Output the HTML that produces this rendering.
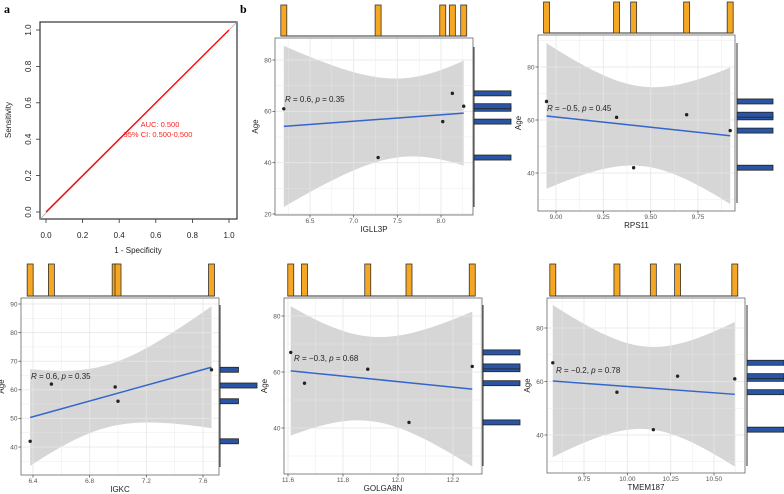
<!DOCTYPE html>
<html><head><meta charset="utf-8">
<style>
html,body{margin:0;padding:0;background:#fff;}
svg{display:block;font-family:"Liberation Sans",sans-serif;}
</style></head>
<body>
<svg id="chart" width="784" height="494" viewBox="0 0 784 494" xmlns="http://www.w3.org/2000/svg">
<text x="4" y="13" font-family="Liberation Serif" font-weight="bold" font-size="12">a</text>
<text x="240" y="13" font-family="Liberation Serif" font-weight="bold" font-size="12">b</text>
</svg>
<script>
// ---- data ----
const rocTicks = [0, 0.2, 0.4, 0.6, 0.8, 1.0];
const rocTickLabels = ["0.0","0.2","0.4","0.6","0.8","1.0"];
const rocFpr = [0, 1];
const rocTpr = [0, 1];
const geneNames = ["IGLL3P","RPS11","IGKC","GOLGA8N","TMEM187"];
const igll3pExpr = [6.2, 7.28, 8.02, 8.13, 8.26];
const igll3pAges = [61, 42, 56, 67, 62];
const rps11Expr = [8.95, 9.32, 9.41, 9.69, 9.92];
const rps11Ages = [67, 61, 42, 62, 56];
const igkcExpr = [6.38, 6.53, 6.98, 7.0, 7.66];
const igkcAges = [42, 62, 61, 56, 67];
const golga8nExpr = [11.61, 11.66, 11.89, 12.04, 12.27];
const golga8nAges = [67, 56, 61, 42, 62];
const tmem187Expr = [9.57, 9.94, 10.15, 10.29, 10.62];
const tmem187Ages = [67, 56, 42, 62, 61];
const annotations = ["R = 0.6, p = 0.35","R = \u22120.5, p = 0.45","R = 0.6, p = 0.35","R = \u22120.3, p = 0.68","R = \u22120.2, p = 0.78"];
const xTickLabels = [["6.5","7.0","7.5","8.0"],["9.00","9.25","9.50","9.75"],["6.4","6.8","7.2","7.6"],["11.6","11.8","12.0","12.2"],["9.75","10.00","10.25","10.50"]];
const yTickLabels = [["20","40","60","80"],["40","60","80"],["40","50","60","70","80","90"],["40","60","80"],["40","60","80"]];

const NS = "http://www.w3.org/2000/svg";
const svg = document.getElementById("chart");
function mk(tag, attrs, parent){
  const e = document.createElementNS(NS, tag);
  for (const k in attrs) e.setAttribute(k, attrs[k]);
  (parent||svg).appendChild(e);
  return e;
}
function lin(v1,p1,v2,p2){ return v => p1 + (v - v1) * (p2 - p1) / (v2 - v1); }

// ---- panel a: ROC ----
(function(){
  const g = mk("g", {});
  
  
  const x = lin(0,46,1,229), y = lin(0,212,1,30);
  const box = mk("rect",{x:40,y:22,width:197,height:197,fill:"#fff",stroke:"#333","stroke-width":1.2},g);
  
  
  const ref = mk("line",{x1:40,y1:219,x2:237,y2:22,stroke:"#aaa","stroke-width":0.8},g);
  
  
  const pts = rocFpr.map((f,i)=>x(f)+","+y(rocTpr[i])).join(" ");
  const roc = mk("polyline",{points:pts,fill:"none",stroke:"#f00","stroke-width":1.3},g);
  
  
  rocTicks.forEach((t,i)=>{
    mk("line",{x1:x(t),y1:219,x2:x(t),y2:223,stroke:"#333","stroke-width":0.8},g);
    const tl = mk("text",{x:x(t),y:238,"font-size":8,"text-anchor":"middle",fill:"#222"},g);
    tl.textContent = rocTickLabels[i];
    
    
    mk("line",{x1:36,y1:y(t),x2:40,y2:y(t),stroke:"#333","stroke-width":0.8},g);
    const yl = mk("text",{x:0,y:0,"font-size":8,"text-anchor":"middle",fill:"#222",transform:`translate(31,${y(t)}) rotate(-90)`},g);
    yl.textContent = rocTickLabels[i];
    
    
  });
  const xt = mk("text",{x:138,y:253,"font-size":8,"text-anchor":"middle",fill:"#222"},g);
  xt.textContent = "1 - Specificity";
  
  
  const yt = mk("text",{x:0,y:0,"font-size":8,"text-anchor":"middle",fill:"#222",transform:"translate(11,120) rotate(-90)"},g);
  yt.textContent = "Sensitivity";
  
  
  const a1 = mk("text",{x:160,y:127,"font-size":7.5,"text-anchor":"middle",fill:"#f22"},g);
  a1.textContent = "AUC: 0.500";
  
  
  const a2 = mk("text",{x:158,y:137,"font-size":7.5,"text-anchor":"middle",fill:"#f22"},g);
  a2.textContent = "95% CI: 0.500-0.500";
  
  
})();

// ---- scatter panels ----
const layouts = [
 {bx0:275,bx1:473,by0:38,by1:215, xv:[6.5,8.0],xp:[310,441], yv:[80,20],yp:[60,214], top:[5,36], right:[474,511], vline:[47,207], ann:[285,102], xTicks:[6.5,7.0,7.5,8.0], yTicks:[20,40,60,80]},
 {bx0:538,bx1:735,by0:35,by1:211, xv:[9.0,9.75],xp:[556,698], yv:[80,40],yp:[67,173], top:[2,33], right:[737,773], vline:[43,203], ann:[547,111], xTicks:[9.0,9.25,9.5,9.75], yTicks:[40,60,80]},
 {bx0:21,bx1:219,by0:298,by1:475, xv:[6.4,7.6],xp:[33,203], yv:[90,40],yp:[304,447], top:[264,296], right:[220,257], vline:[305,467], ann:[31,379], xTicks:[6.4,6.8,7.2,7.6], yTicks:[40,50,60,70,80,90], merge:true},
 {bx0:284,bx1:482,by0:298,by1:474, xv:[11.6,12.2],xp:[288,453], yv:[80,40],yp:[316,428], top:[264,296], right:[483,520], vline:[305,466], ann:[294,361], xTicks:[11.6,11.8,12.0,12.2], yTicks:[40,60,80]},
 {bx0:547,bx1:745,by0:298,by1:473, xv:[9.75,10.5],xp:[584,714], yv:[80,40],yp:[328,435], top:[264,296], right:[747,784], vline:[305,466], ann:[556,373], xTicks:[9.75,10.0,10.25,10.5], yTicks:[40,60,80]}
];
const exprSets = [igll3pExpr, rps11Expr, igkcExpr, golga8nExpr, tmem187Expr];
const ageSets = [igll3pAges, rps11Ages, igkcAges, golga8nAges, tmem187Ages];

function drawPanel(i){
  const L = layouts[i], xs = exprSets[i], ys = ageSets[i];
  const x = lin(L.xv[0],L.xp[0],L.xv[1],L.xp[1]);
  const y = lin(L.yv[0],L.yp[0],L.yv[1],L.yp[1]);
  const g = mk("g",{});
  
  
  const bg = mk("rect",{x:L.bx0,y:L.by0,width:L.bx1-L.bx0,height:L.by1-L.by0,fill:"#fff"},g);
  
  
  const n = xs.length;
  const mx = xs.reduce((a,b)=>a+b)/n, my = ys.reduce((a,b)=>a+b)/n;
  let sxx=0, sxy=0; xs.forEach((v,k)=>{sxx+=(v-mx)*(v-mx); sxy+=(v-mx)*(ys[k]-my);});
  const b = sxy/sxx, a = my - b*mx;
  let sse=0; xs.forEach((v,k)=>{const r=ys[k]-(a+b*v); sse+=r*r;});
  const s = Math.sqrt(sse/(n-2)), tq = 3.182;
  const xmin = Math.min(...xs), xmax = Math.max(...xs);
  const up=[], lo=[];
  for (let k=0;k<=40;k++){
    const xv = xmin + (xmax-xmin)*k/40;
    const fit = a+b*xv, h = tq*s*Math.sqrt(1/n + (xv-mx)*(xv-mx)/sxx);
    up.push(x(xv)+","+y(fit+h)); lo.unshift(x(xv)+","+y(fit-h));
  }
  const clip = "clip"+i;
  const cp = mk("clipPath",{id:clip},g);
  mk("rect",{x:L.bx0,y:L.by0,width:L.bx1-L.bx0,height:L.by1-L.by0},cp);
  const band = mk("polygon",{points:up.concat(lo).join(" "),fill:"#999","fill-opacity":0.4,"clip-path":`url(#${clip})`},g);
  
  
  const xstep = L.xTicks[1]-L.xTicks[0], ystep = L.yTicks[1]-L.yTicks[0];
  const gx = [L.xTicks[0]-xstep/2].concat(...L.xTicks.map(t=>[t,t+xstep/2]));
  const gy = [L.yTicks[0]-ystep/2].concat(...L.yTicks.map(t=>[t,t+ystep/2]));
  gx.forEach((t,k)=>{const p=x(t); if(p>L.bx0&&p<L.bx1) mk("line",{x1:p,y1:L.by0,x2:p,y2:L.by1,stroke:"#e6e6e6","stroke-opacity":0.8,"stroke-width":k%2?1:0.5},g);});
  gy.forEach((t,k)=>{const p=y(t); if(p>L.by0&&p<L.by1) mk("line",{x1:L.bx0,y1:p,x2:L.bx1,y2:p,stroke:"#e6e6e6","stroke-opacity":0.8,"stroke-width":k%2?1:0.5},g);});
  const fl = mk("line",{x1:x(xmin),y1:y(a+b*xmin),x2:x(xmax),y2:y(a+b*xmax),stroke:"#3366cc","stroke-width":1.5},g);
  
  
  xs.forEach((v,k)=>{
    const c = mk("circle",{cx:x(v),cy:y(ys[k]),r:1.7,fill:"#222"},g);
    
    
  });
  mk("rect",{x:L.bx0,y:L.by0,width:L.bx1-L.bx0,height:L.by1-L.by0,fill:"none",stroke:"#666","stroke-width":0.8},g);
  const an = mk("text",{x:L.ann[0],y:L.ann[1],"font-size":8,fill:"#222"},g);
  
  
  const parts = annotations[i].split(/(R|p)(?= =)/);
  parts.forEach(pt=>{ if(!pt) return; const ts = mk("tspan",{},an); if(pt==="R"||pt==="p") ts.setAttribute("font-style","italic"); ts.textContent = pt; });
  L.xTicks.forEach((t,k)=>{
    mk("line",{x1:x(t),y1:L.by1,x2:x(t),y2:L.by1+2.5,stroke:"#444","stroke-width":0.7},g);
    const tl = mk("text",{x:x(t),y:L.by1+8,"font-size":6.5,"text-anchor":"middle",fill:"#555"},g);
    tl.textContent = xTickLabels[i][k];
    
    
  });
  L.yTicks.forEach((t,k)=>{
    mk("line",{x1:L.bx0-2.5,y1:y(t),x2:L.bx0,y2:y(t),stroke:"#444","stroke-width":0.7},g);
    const tl = mk("text",{x:L.bx0-3.5,y:y(t)+2.3,"font-size":6.5,"text-anchor":"end",fill:"#555"},g);
    tl.textContent = yTickLabels[i][k];
    
    
  });
  const xt = mk("text",{x:(L.bx0+L.bx1)/2,y:L.by1+17,"font-size":8,"text-anchor":"middle",fill:"#222"},g);
  xt.textContent = geneNames[i];
  
  
  const yt = mk("text",{x:0,y:0,"font-size":8,"text-anchor":"middle",fill:"#222",transform:`translate(${L.bx0-17},${(L.by0+L.by1)/2}) rotate(-90)`},g);
  yt.textContent = "Age";
  
  
  mk("line",{x1:x(xmin)-3,y1:L.top[1],x2:x(xmax)+3,y2:L.top[1],stroke:"#333","stroke-width":1},g);
  xs.forEach(v=>{
    const r = mk("rect",{x:x(v)-3,y:L.top[0],width:6,height:L.top[1]-L.top[0],fill:"#f5a623",stroke:"#333","stroke-width":0.8},g);
    
    
  });
  mk("line",{x1:L.right[0],y1:L.vline[0],x2:L.right[0],y2:L.vline[1],stroke:"#333","stroke-width":1},g);
  const counts = {};
  ys.forEach(v=>{ const key = L.merge && (v===61||v===62) ? 61.5 : v; counts[key]=(counts[key]||0)+1; });
  const maxc = Math.max(...Object.values(counts));
  const full = L.right[1]-L.right[0];
  Object.keys(counts).forEach(kk=>{
    const v = +kk, c = counts[kk];
    const len = L.merge ? full*c/maxc : full;
    const r = mk("rect",{x:L.right[0],y:y(v)-2.5,width:len,height:5,fill:"#2a55a5",stroke:"#222","stroke-width":0.8},g);
    
    
  });
}
for (let i=0;i<5;i++) drawPanel(i);
</script>
</body></html>
